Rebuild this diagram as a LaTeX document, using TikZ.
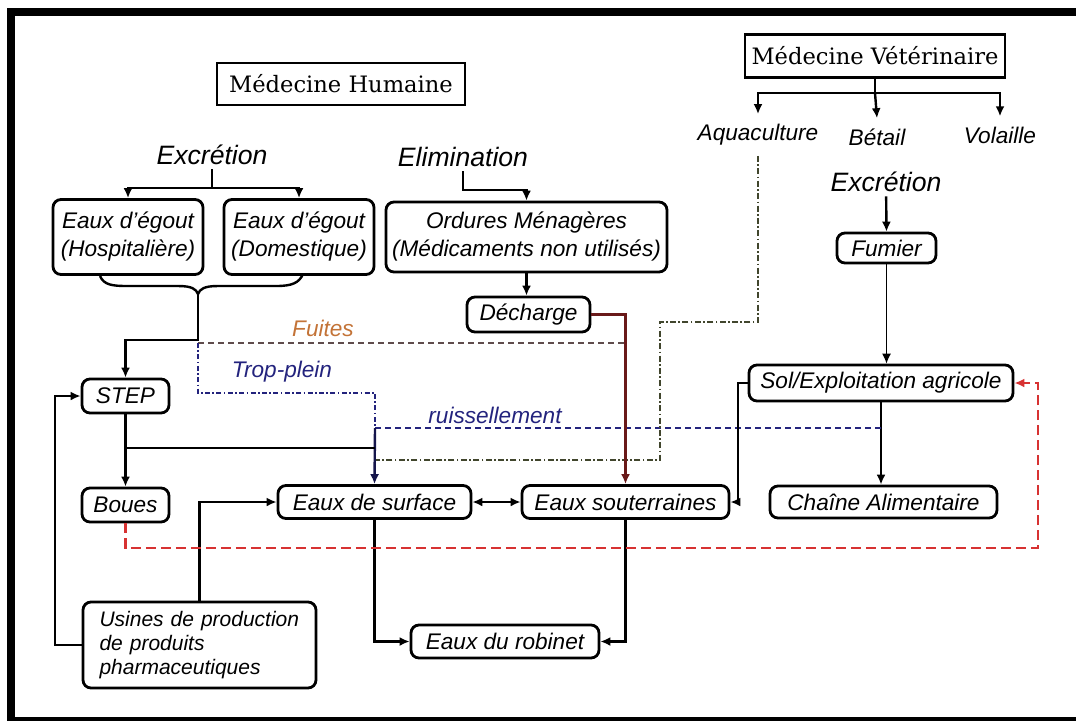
\documentclass[tikz,border=0pt]{standalone}
\usepackage{fontspec}
\setsansfont{Liberation Sans}
\newfontfamily\titrefont{DejaVu Serif}
\usetikzlibrary{arrows.meta,calc}
\newcommand{\policeboite}{\sffamily\itshape\fontsize{11.3}{14}\selectfont}
\definecolor{bleuTP}{RGB}{35,35,125}
\definecolor{orangeF}{RGB}{195,115,55}
\definecolor{griseF}{RGB}{95,75,75}
\definecolor{rougeR}{RGB}{215,50,50}
\definecolor{vertAq}{RGB}{65,70,45}
\definecolor{brunD}{RGB}{105,25,25}
\tikzset{
	boite/.style={draw, rounded corners=4pt, line width=1.4pt, inner sep=0pt, font=\policeboite},
	titre/.style={draw, line width=1.2pt, inner sep=0pt, font=\titrefont\fontsize{11.3}{14}\selectfont},
	tete/.style={inner sep=2pt, font=\sffamily\itshape\fontsize{13.3}{16}\selectfont},
	elevage/.style={inner sep=5pt, font=\policeboite},
	etiquette/.style={inner sep=0pt, font=\policeboite},
	trait/.style={line width=1.2pt},
	fleche/.style={line width=1.2pt, -{Latex[length=5pt,width=4.5pt]}},
	fuite/.style={line width=1pt, color=griseF, dash pattern=on 3pt off 2pt},
	trop/.style={line width=1pt, color=bleuTP, dash pattern=on 2.5pt off 1.2pt on 0.8pt off 1.2pt},
	ruis/.style={line width=1.1pt, color=bleuTP, dash pattern=on 3pt off 2pt},
	aquac/.style={line width=0.9pt, color=vertAq, dash pattern=on 3pt off 1.2pt on 0.8pt off 1.2pt},
	retour/.style={line width=1.2pt, color=rougeR, dash pattern=on 5pt off 2.5pt, -{Latex[length=5pt,width=4.5pt]}}
}

\begin{document}
\begin{tikzpicture}[x=0.5pt, y=-0.5pt]
	%%%%% START %%%%%
	\useasboundingbox (0,0) rectangle (1076,720);
	
	\draw[line width=4pt] (11,724) -- (11,12) -- (1080,12);
	\draw[line width=3.5pt] (7,720) -- (1080,720);
	
	\node[titre, minimum width=124pt, minimum height=21pt] (mh) at (341,84) {Médecine Humaine};
	\node[titre, minimum width=130pt, minimum height=21.5pt] (mv) at (875,56) {Médecine Vétérinaire};
	
	\node[tete] (excH) at (212,155) {Excrétion};
	\node[tete] (elim) at (463,157) {Elimination};
	\node[boite, minimum width=75pt, minimum height=37.5pt, align=center] (egH) at (128,237) {Eaux d'égout\\(Hospitalière)};
	\node[boite, minimum width=75pt, minimum height=37.5pt, align=center] (egD) at (299,237) {Eaux d'égout\\(Domestique)};
	\node[boite, minimum width=140.5pt, minimum height=35pt, align=center] (ord) at (526.5,237) {Ordures Ménagères\\(Médicaments non utilisés)};
	\node[boite, minimum width=61.5pt, minimum height=17.5pt] (dech) at (528.5,314.5) {Décharge};
	
	\node[elevage] (aqua) at (758,135) {Aquaculture};
	\node[elevage] (betail) at (877,137) {Bétail};
	\node[elevage] (vol) at (1000,135) {Volaille};
	\node[tete] (excV) at (886,182) {Excrétion};
	\node[boite, minimum width=49.5pt, minimum height=15pt] (fum) at (886.5,248) {Fumier};
	\node[boite, minimum width=132pt, minimum height=18pt] (sol) at (881,383) {Sol/Exploitation agricole};
	
	\node[boite, minimum width=43.5pt, minimum height=17pt] (step) at (125.5,396) {STEP};
	\node[boite, minimum width=43.5pt, minimum height=17pt] (boues) at (125.5,505) {Boues};
	\node[boite, minimum width=96.5pt, minimum height=16.5pt] (surf) at (374.5,502) {Eaux de surface};
	\node[boite, minimum width=103.5pt, minimum height=16.5pt] (sout) at (625.5,502) {Eaux souterraines};
	\node[boite, minimum width=113.5pt, minimum height=16pt] (chaine) at (883.5,502) {Chaîne Alimentaire};
	\node[boite, minimum width=94pt, minimum height=16.5pt] (rob) at (505,641.5) {Eaux du robinet};
	\node[boite, minimum width=116.5pt, minimum height=43pt, text width=100pt, align=left,
		font=\sffamily\itshape\fontsize{10.5}{12}\selectfont] (usine) at (199.5,645) {Usines de production\\de produits\\pharmaceutiques};
	
	\node[etiquette, text=orangeF] (lfu) at (323,328) {Fuites};
	\node[etiquette, text=bleuTP] (ltp) at (282,372) {Trop-plein};
	\node[etiquette, text=bleuTP] (lru) at (495,415) {ruissellement};
	
	% embranchements du haut
	\coordinate (brH) at (212,188);
	\draw[trait] (excH) -- (brH);
	\draw[fleche] (brH) -| (egH.north);
	\draw[fleche] (brH) -| (egD.north);
	\coordinate (elB) at (463,190);
	\draw[fleche] (elim) -- (elB) -| (ord.north);
	\draw[fleche] (ord.south) -- (ord.south |- dech.north);
	\coordinate (brV) at (875,93);
	\draw[trait] (mv) -- (brV);
	\draw[fleche] (brV) -| (aqua.north);
	\draw[fleche] (brV) -- (betail.north);
	\draw[fleche] (brV) -| (vol.north);
	\draw[fleche] (excV) -- (fum.north);
	\draw[fleche, line width=0.6pt] (fum.south) -- (fum.south |- sol.north);
	\draw[fleche] (sol.south) -- (sol.south |- chaine.north);
	
	% accolade
	\coordinate (acc) at (198,294);
	\draw[trait] (100,276) .. controls (104,285) and (112,286) .. (128,286) -- (178,286)
		.. controls (192,286) and (196,289) .. (acc) .. controls (200,289) and (204,286) .. (218,286)
		-- (276,286) .. controls (292,286) and (299,283) .. (303,274);
	\coordinate (br1) at (198,340);
	\draw[fleche] (acc) -- (br1) -| (step.north);
	
	% fuites, trop-plein, ruissellement
	\coordinate (tp0) at (198,343);
	\coordinate (fu1) at (625.5,343);
	\draw[fuite] (tp0) -- (fu1);
	\coordinate (tp1) at (375,393);
	\coordinate (ru1) at (881,428);
	\coordinate (ru2) at (375,428);
	\draw[trop] (tp0) |- (tp1) -- (ru2);
	\draw[ruis] (ru1) -- (ru2);
	\coordinate (aq1) at (660,322);
	\coordinate (aq2) at (375,460);
	\draw[aquac] (aqua.south) |- (aq1) |- (aq2);
	\draw[fleche, color=bleuTP!60!black] (ru2) -- (surf.north);
	\draw[fleche, color=brunD] (dech.east) -| (sout.north);
	
	% STEP
	\draw[fleche] (step) -- (boues);
	\coordinate (st1) at (125.5,448);
	\coordinate (st2) at (375,448);
	\draw[trait] (st1) -- (st2);
	\coordinate (uw) at (55,645);
	\draw[fleche] (usine.west) -- (uw) |- (step.west);
	\draw[fleche] (usine.north) |- (surf.west);
	
	% eaux
	\draw[{Latex[length=5pt,width=4.5pt]}-{Latex[length=5pt,width=4.5pt]}, line width=1.2pt] (surf.east) -- (sout.west);
	\coordinate (sw) at (738,383);
	\draw[fleche] (sol.west) -- (sw) |- (sout.east);
	\draw[fleche] (surf.south) |- (rob.west);
	\draw[fleche] (sout.south) |- (rob.east);
	
	% boues vers sol
	\coordinate (rg) at (1038,548);
	\draw[retour] (boues.south) |- (rg) |- (sol.east);
	%%%%% END %%%%%
\end{tikzpicture}
\end{document}
